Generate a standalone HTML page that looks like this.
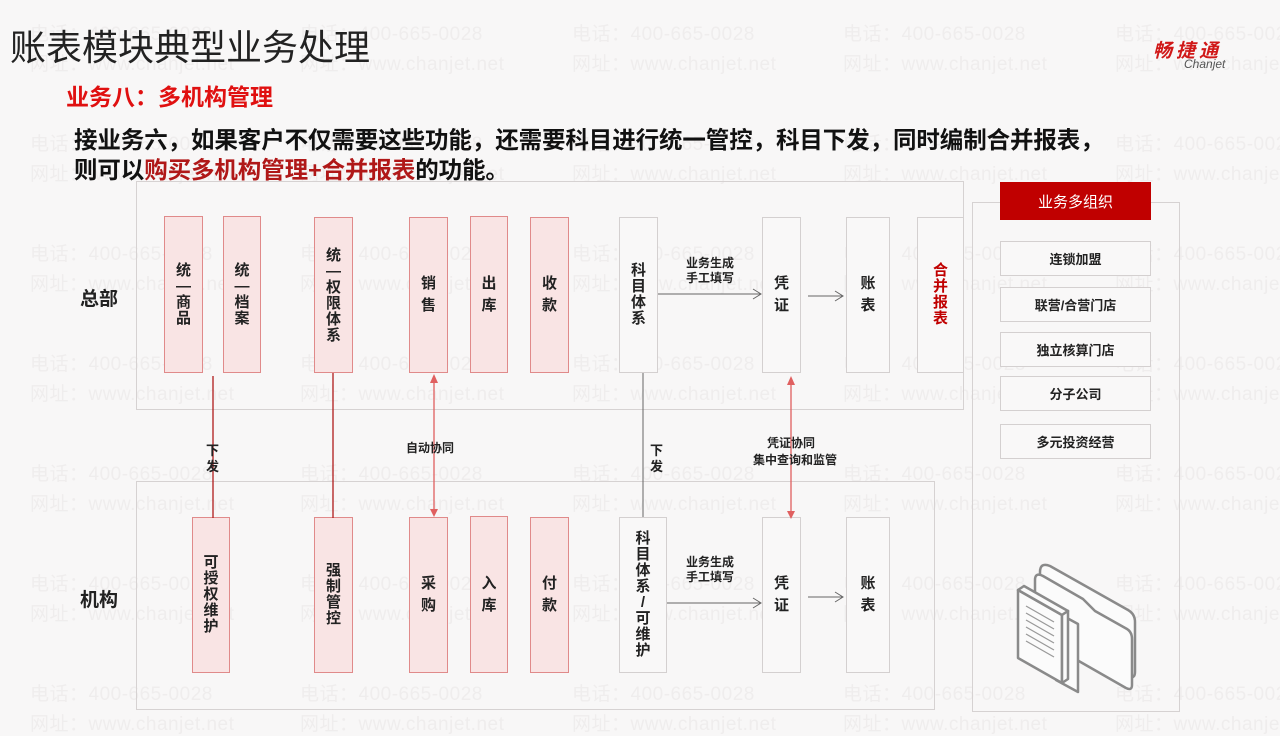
<!DOCTYPE html>
<html><head><meta charset="utf-8"><style>
*{margin:0;padding:0;box-sizing:border-box}
body{width:1280px;height:720px;background:#f8f7f7;position:relative;overflow:hidden;font-family:"Liberation Sans","Noto Sans CJK SC",sans-serif;color:#222}
.a{position:absolute}
.wm{position:absolute;font-size:19px;color:#efeded;white-space:nowrap;letter-spacing:0.5px}
.frame{position:absolute;border:1px solid #d6d2d2}
.pk{position:absolute;background:#f9e4e4;border:1px solid #e08a8a;display:flex;align-items:center;justify-content:center;text-align:center;font-weight:bold;font-size:15px;line-height:16px}
.wh{position:absolute;background:#f9f8f8;border:1px solid #d4d0d0;display:flex;align-items:center;justify-content:center;text-align:center;font-weight:bold;font-size:15px;line-height:16px}
.two{line-height:22px}
.lbl{position:absolute;font-weight:bold;font-size:12px;line-height:15px;white-space:nowrap}
.opt{position:absolute;left:1000px;width:151px;height:35px;border:1px solid #d4d0d0;background:#f9f8f8;font-weight:bold;font-size:13px;display:flex;align-items:center;justify-content:center}
</style></head><body>
<div id="wms"></div>

<div class="a" style="left:10px;top:19px;font-size:36px;color:#222;white-space:nowrap">账表模块典型业务处理</div>
<div class="a" style="left:66px;top:78px;font-size:23px;font-weight:bold;color:#e01010;white-space:nowrap">业务八：多机构管理</div>
<div class="a" style="left:74px;top:125px;font-size:23.5px;font-weight:bold;line-height:30px;color:#111;white-space:nowrap;letter-spacing:-0.1px">接业务六，如果客户不仅需要这些功能，还需要科目进行统一管控，科目下发，同时编制合并报表，<br>则可以<span style="color:#b01818">购买多机构管理+合并报表</span>的功能。</div>
<div class="a" style="left:1153px;top:36px;font-size:19px;font-weight:bold;font-style:italic;color:#d01818;letter-spacing:4px">畅捷通</div>
<div class="a" style="left:1184px;top:57px;font-size:12px;font-style:italic;color:#555">Chanjet</div>

<div class="frame" style="left:136px;top:181px;width:828px;height:229px"></div>
<div class="frame" style="left:136px;top:481px;width:799px;height:229px"></div>
<div class="frame" style="left:972px;top:202px;width:208px;height:510px"></div>

<div class="a" style="left:80px;top:284px;font-size:19px;font-weight:bold">总部</div>
<div class="a" style="left:80px;top:585px;font-size:19px;font-weight:bold">机构</div>

<div class="pk" style="left:164px;top:216px;width:39px;height:157px">统<br>—<br>商<br>品</div>
<div class="pk" style="left:223px;top:216px;width:38px;height:157px">统<br>—<br>档<br>案</div>
<div class="pk" style="left:314px;top:217px;width:39px;height:156px;align-items:flex-start;padding-top:30px">统<br>—<br>权<br>限<br>体<br>系</div>
<div class="pk two" style="left:409px;top:217px;width:39px;height:156px">销<br>售</div>
<div class="pk two" style="left:470px;top:216px;width:38px;height:157px">出<br>库</div>
<div class="pk two" style="left:530px;top:217px;width:39px;height:156px">收<br>款</div>
<div class="wh" style="left:619px;top:217px;width:39px;height:156px">科<br>目<br>体<br>系</div>
<div class="wh two" style="left:762px;top:217px;width:39px;height:156px">凭<br>证</div>
<div class="wh two" style="left:846px;top:217px;width:44px;height:156px">账<br>表</div>
<div class="wh" style="left:917px;top:217px;width:47px;height:156px;color:#c00000">合<br>并<br>报<br>表</div>

<div class="pk" style="left:192px;top:517px;width:38px;height:156px">可<br>授<br>权<br>维<br>护</div>
<div class="pk" style="left:314px;top:517px;width:39px;height:156px">强<br>制<br>管<br>控</div>
<div class="pk two" style="left:409px;top:517px;width:39px;height:156px">采<br>购</div>
<div class="pk two" style="left:470px;top:516px;width:38px;height:157px">入<br>库</div>
<div class="pk two" style="left:530px;top:517px;width:39px;height:156px">付<br>款</div>
<div class="wh" style="left:619px;top:517px;width:48px;height:156px">科<br>目<br>体<br>系<br>/<br>可<br>维<br>护</div>
<div class="wh two" style="left:762px;top:517px;width:39px;height:156px">凭<br>证</div>
<div class="wh two" style="left:846px;top:517px;width:44px;height:156px">账<br>表</div>

<svg class="a" style="left:0;top:0" width="1280" height="720">
<g stroke="#b01c1c" stroke-width="1.3" fill="none">
<line x1="213" y1="376" x2="213" y2="518"/>
<line x1="333" y1="373" x2="333" y2="518"/>
</g>
<g stroke="#e06060" stroke-width="1.3" fill="#e06060">
<line x1="434" y1="380" x2="434" y2="512"/>
<polygon points="430,383 438,383 434,374" stroke="none"/>
<polygon points="430,509 438,509 434,517" stroke="none"/>
<line x1="791" y1="382" x2="791" y2="514"/>
<polygon points="787,385 795,385 791,376" stroke="none"/>
<polygon points="787,511 795,511 791,519" stroke="none"/>
</g>
<g stroke="#666" stroke-width="1" fill="none">
<line x1="643" y1="373" x2="643" y2="517"/>
<line x1="658" y1="294" x2="761" y2="294"/><polyline points="753,289 761,294 753,299"/>
<line x1="808" y1="296" x2="843" y2="296"/><polyline points="835,291 843,296 835,301"/>
<line x1="667" y1="603" x2="761" y2="603"/><polyline points="753,598 761,603 753,608"/>
<line x1="808" y1="597" x2="843" y2="597"/><polyline points="835,592 843,597 835,602"/>
</g>
<g stroke="#8a8a8a" stroke-width="2.5" fill="#fbfbfb" stroke-linejoin="round">
<path d="M1040,572 q0,-10 10,-6 l78,44 q7,4 7,12 v50 q0,8 -8,4 l-80,-46 q-7,-4 -7,-12z"/>
<path d="M1035,580 q0,-8 8,-4 l40,23 l12,12 l32,18 q5,3 5,10 v46 q0,6 -6,3 l-84,-48 q-7,-4 -7,-12z"/>
<path d="M1056,612 l22,12 v68 l-22,-12z"/>
<path d="M1018,590 l44,25 v68 l-44,-25z"/>
<path d="M1018,590 l6,-4 l44,25 l-6,4z"/>
<path d="M1062,615 l6,-4 v68 l-6,4z"/>
</g>
<g stroke="#999" stroke-width="1.2">
<line x1="1026" y1="606" x2="1054" y2="622"/><line x1="1026" y1="613" x2="1054" y2="629"/>
<line x1="1026" y1="620" x2="1054" y2="636"/><line x1="1026" y1="627" x2="1054" y2="643"/>
<line x1="1026" y1="634" x2="1054" y2="650"/><line x1="1026" y1="641" x2="1054" y2="657"/>
</g>
</svg>

<div class="lbl" style="left:206px;top:443px;font-size:13px;line-height:16px">下<br>发</div>
<div class="lbl" style="left:406px;top:441px">自动协同</div>
<div class="lbl" style="left:650px;top:443px;font-size:13px;line-height:16px">下<br>发</div>
<div class="lbl" style="left:767px;top:436px">凭证协同</div>
<div class="lbl" style="left:753px;top:453px">集中查询和监管</div>
<div class="lbl" style="left:686px;top:256px">业务生成<br>手工填写</div>
<div class="lbl" style="left:686px;top:555px">业务生成<br>手工填写</div>

<div class="a" style="left:1000px;top:182px;width:151px;height:38px;background:#c00000;color:#fff;font-size:15px;display:flex;align-items:center;justify-content:center">业务多组织</div>
<div class="opt" style="top:241px">连锁加盟</div>
<div class="opt" style="top:287px">联营/合营门店</div>
<div class="opt" style="top:332px">独立核算门店</div>
<div class="opt" style="top:376px">分子公司</div>
<div class="opt" style="top:424px">多元投资经营</div>

<script>
(function(){var h='',xs=[30,300,572,843,1115],ys=[19,129,239,349,459,569,679];
ys.forEach(function(y){xs.forEach(function(x){h+='<div class="wm" style="left:'+x+'px;top:'+y+'px">电话：400-665-0028</div><div class="wm" style="left:'+x+'px;top:'+(y+30)+'px">网址：www.chanjet.net</div>';});});
document.getElementById('wms').innerHTML=h;})();
</script>
</body></html>
